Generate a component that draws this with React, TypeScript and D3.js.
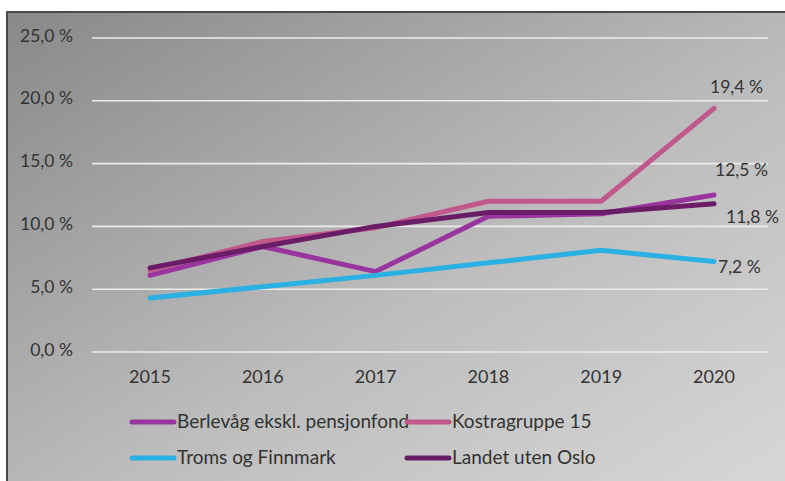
import { scaleLinear, scalePoint, line as d3line } from "d3";

const years = ["2015", "2016", "2017", "2018", "2019", "2020"];
const yTicks = [0, 5, 10, 15, 20, 25];

const berlevag = [6.1, 8.4, 6.4, 10.8, 11.0, 12.5];
const kostra = [6.5, 8.8, 9.9, 12.0, 12.0, 19.4];
const troms = [4.3, 5.2, 6.1, 7.1, 8.1, 7.2];
const landet = [6.7, 8.4, 10.0, 11.1, 11.1, 11.8];

const seriesNames = ["Berlevåg ekskl. pensjonfond", "Kostragruppe 15", "Troms og Finnmark", "Landet uten Oslo"];
const seriesColors = ["#9a359f", "#c0588c", "#2ab0e2", "#6a1d66"];
const seriesValues = [berlevag, kostra, troms, landet];

// end labels shown at 2020
const endLabels = ["12,5 %", "19,4 %", "7,2 %", "11,8 %"];

const WIDTH = 785;
const HEIGHT = 481;
const FONT = "Lato, 'Open Sans', sans-serif";
const TEXT = "#333333";

const fmtPct = (v: number) => `${v.toFixed(1).replace(".", ",")} %`;

export default function App() {
  const x = scalePoint<string>().domain(years).range([150, 714]);
  const y = scaleLinear().domain([0, 25]).range([352, 38]);

  const path = d3line<number>()
    .x((_, i) => x(years[i]) ?? 0)
    .y((d) => y(d));

  // label placement relative to the 2020 point: [dx, y]
  const labelPos = [
    { dx: 1, y: 170 },
    { dx: -4, y: 87 },
    { dx: 4, y: 267 },
    { dx: 12, y: 217 },
  ];

  const legend = [
    { idx: 0, x: 130, y: 421 },
    { idx: 1, x: 405, y: 421 },
    { idx: 2, x: 130, y: 457 },
    { idx: 3, x: 405, y: 457 },
  ];

  return (
    <svg
      width={WIDTH}
      height={HEIGHT}
      viewBox={`0 0 ${WIDTH} ${HEIGHT}`}
      style={{ position: "absolute", left: 0, top: 0, background: "#ffffff" }}
      fontFamily={FONT}
    >
      <defs>
        <linearGradient id="bg" x1="0" y1="0" x2="1" y2="1">
          <stop offset="0%" stopColor="#898989" />
          <stop offset="55%" stopColor="#bdbdbd" />
          <stop offset="100%" stopColor="#d9d9d9" />
        </linearGradient>
      </defs>

      <rect x={7} y={12} width={800} height={490} fill="url(#bg)" stroke="#4a4a4a" strokeWidth={2} />

      {/* Gridlines + y labels */}
      {yTicks.map((t) => (
        <g key={t}>
          <line x1={92} x2={768} y1={y(t)} y2={y(t)} stroke="#ececec" strokeWidth={1.6} />
          <text x={73} y={y(t) - 2} dy="0.32em" textAnchor="end" fontSize={17.5} fill={TEXT}>
            {fmtPct(t)}
          </text>
        </g>
      ))}

      {/* x labels */}
      {years.map((yr) => (
        <text key={yr} x={x(yr)} y={377} dy="0.35em" textAnchor="middle" fontSize={18} fill={TEXT}>
          {yr}
        </text>
      ))}

      {/* Lines */}
      {seriesValues.map((vals, i) => (
        <path
          key={seriesNames[i]}
          d={path(vals) ?? ""}
          fill="none"
          stroke={seriesColors[i]}
          strokeWidth={5}
          strokeLinecap="round"
          strokeLinejoin="round"
        />
      ))}

      {/* End labels */}
      {endLabels.map((lab, i) => (
        <text
          key={lab}
          x={(x("2020") ?? 0) + labelPos[i].dx}
          y={labelPos[i].y}
          dy="0.35em"
          fontSize={17.5}
          fill={TEXT}
        >
          {lab}
        </text>
      ))}

      {/* Legend */}
      {legend.map((l) => (
        <g key={l.idx}>
          <line
            x1={l.x + 2}
            x2={l.x + 44}
            y1={l.y + 1}
            y2={l.y + 1}
            stroke={seriesColors[l.idx]}
            strokeWidth={5}
            strokeLinecap="round"
          />
          <text x={l.x + 47} y={l.y} dy="0.35em" fontSize={19} fill={TEXT}>
            {seriesNames[l.idx]}
          </text>
        </g>
      ))}
    </svg>
  );
}
